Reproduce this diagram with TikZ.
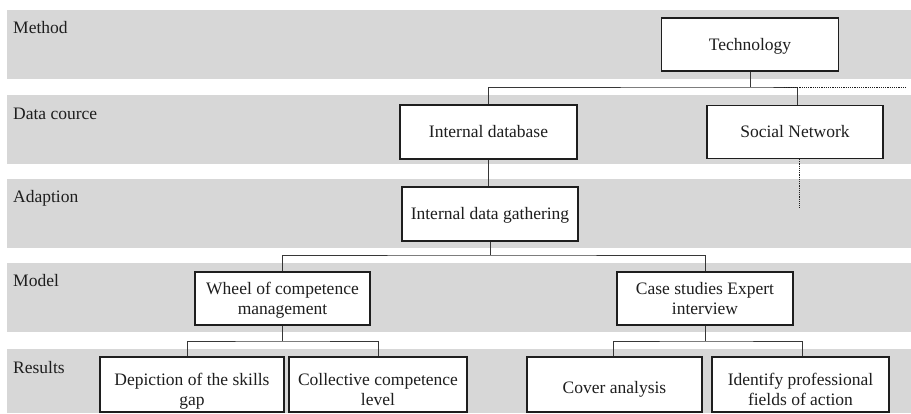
\documentclass[tikz,border=0pt]{standalone}
\usepackage{fontspec}
\setmainfont{Liberation Serif}
\definecolor{bandgray}{RGB}{215,215,215}
\definecolor{ink}{RGB}{30,30,30}
\definecolor{wire}{RGB}{55,55,55}
\begin{document}
\begin{tikzpicture}[x=1pt,y=-1pt,
  band/.style={fill=bandgray,draw=none},
  lab/.style={anchor=base west,inner sep=0pt,text=ink,font=\fontsize{17.5}{20}\selectfont},
  box/.style={draw=ink,fill=white,line width=1.1pt,inner sep=0pt,align=center,
    text=ink,font=\fontsize{17.5}{20}\selectfont,text height=11.5pt,text depth=0pt},
  twoline/.style={text height=31.5pt},
  lowone/.style={text height=17.5pt},
  lowtwo/.style={text height=41.5pt},
  conn/.style={draw=wire,line width=0.9pt},
  dotline/.style={draw=ink,line width=1pt,dash pattern=on 1.1pt off 1.1pt}]
\useasboundingbox (0,0) rectangle (911,413);
% bands
\fill[band] (7,10) rectangle (911,79);
\fill[band] (7,95) rectangle (911,164);
\fill[band] (7,179) rectangle (911,248);
\fill[band] (7,263) rectangle (911,332);
\fill[band] (7,349) rectangle (911,413);
% row labels
\node[lab] (lmethod) at (13,33) {Method};
\node[lab] (ldata) at (13,119) {Data cource};
\node[lab] (ladapt) at (13,202) {Adaption};
\node[lab] (lmodel) at (13,286) {Model};
\node[lab] (lresults) at (13,373) {Results};
% boxes
\node[box,minimum width=177pt,minimum height=53pt] (tech) at (750,44.5) {Technology};
\node[box,minimum width=177pt,minimum height=54pt] (intdb) at (488.5,132) {Internal database};
\node[box,minimum width=176pt,minimum height=53pt] (social) at (795,132) {Social Network};
\node[box,minimum width=176pt,minimum height=54pt] (gather) at (490,214) {Internal data gathering};
\node[box,twoline,minimum width=175pt,minimum height=53pt] (wheel) at (282.5,298.5) {Wheel of competence\\management};
\node[box,twoline,minimum width=176pt,minimum height=53pt] (case) at (705,298.5) {Case studies Expert\\interview};
\node[box,lowtwo,minimum width=184pt,minimum height=55pt] (depict) at (192,384.5) {Depiction of the skills\\gap};
\node[box,lowtwo,minimum width=178pt,minimum height=55pt] (collect) at (378,384.5) {Collective competence\\level};
\node[box,lowone,minimum width=175pt,minimum height=55pt] (cover) at (614.5,384.5) {Cover analysis};
\node[box,lowtwo,minimum width=177pt,minimum height=55pt] (identify) at (800.5,384.5) {Identify professional\\fields of action};
% junction coordinates
\coordinate (b1) at (750,87);
\coordinate (b2) at (490,255);
\coordinate (b3) at (282.5,341);
\coordinate (b4) at (705,341);
\coordinate (d1s) at (784,87);
\coordinate (d1e) at (907,87);
\coordinate (d2e) at (799,208);
% connectors
\draw[conn] (tech.south) -- (b1);
\draw[conn] (intdb.north) |- (b1) -| ([xshift=2pt]social.north);
\draw[dotline] (d1s) -- (d1e);
\draw[dotline] ([xshift=4pt]social.south) -- (d2e);
\draw[conn] (intdb.south) -- (intdb.south |- gather.north);
\draw[conn] (gather.south) -- (b2);
\draw[conn] (wheel.north) |- (b2) -| (case.north);
\draw[conn] (wheel.south) -- (b3);
\draw[conn] ([xshift=-5pt]depict.north) |- (b3) -| (collect.north);
\draw[conn] (case.south) -- (b4);
\draw[conn] ([xshift=-1.5pt]cover.north) |- (b4) -| ([xshift=1.5pt]identify.north);
\end{tikzpicture}
\end{document}
